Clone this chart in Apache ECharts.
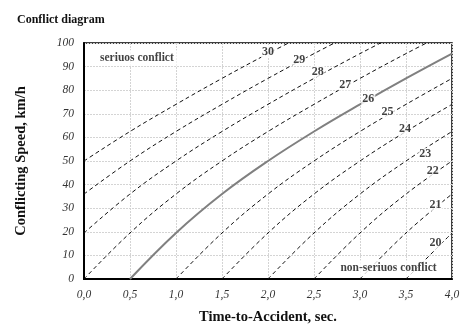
<!DOCTYPE html>
<html>
<head>
<meta charset="utf-8">
<script src="https://cdn.jsdelivr.net/npm/echarts@6/dist/echarts.min.js"></script>
<style>html,body{margin:0;padding:0;background:#fff}#c{width:474px;height:330px}</style>
</head>
<body>
<div id="c"></div>
<script>
// Time-to-Accident sample positions (sec)
const times = [0, 0.5, 1.0, 1.5, 2.0, 2.5, 3.0, 3.5, 4.0];
// Conflicting speed (km/h) read for each iso-line at the times above (null = not drawn)
const c30 = [50, 62.5, 74, 85, 95.5, 105.5, null, null, null];
const c29 = [36, 50, 62.5, 74, 85, 95.5, 105.5, null, null];
const c28 = [19.5, 36, 50, 62.5, 74, 85, 95.5, 105.5, null];
const c27 = [0, 19.5, 36, 50, 62.5, 74, 85, 95.5, 105.5];
const c26 = [null, 0, 19.5, 36, 50, 62.5, 74, 85, 95.5];
const c25 = [null, null, 0, 19.5, 36, 50, 62.5, 74, 85];
const c24 = [null, null, null, 0, 19.5, 36, 50, 62.5, 74];
const c23 = [null, null, null, null, 0, 19.5, 36, 50, 62.5];
const c22 = [null, null, null, null, null, 0, 19.5, 36, 50];
const c21 = [null, null, null, null, null, null, 0, 19.5, 36];
const c20 = [null, null, null, null, null, null, null, 0, 19.5];
const curveNames = ['30','29','28','27','26','25','24','23','22','21','20'];
const curves = [c30, c29, c28, c27, c26, c25, c24, c23, c22, c21, c20];
// Label anchor positions [time, speed] for each iso-line value
const labelTimes  = [2.0, 2.34, 2.54, 2.84, 3.09, 3.30, 3.49, 3.71, 3.79, 3.82, 3.82];
const labelSpeeds = [96.2, 92.9, 87.9, 82.4, 76.2, 70.7, 63.6, 53.1, 45.6, 31.4, 15.1];
// Zone annotations
const zoneNames  = ['seriuos conflict', 'non-seriuos conflict'];
const zoneTimes  = [0.575, 3.31];
const zoneSpeeds = [93.6, 4.6];

const serif = 'Liberation Serif';
const chart = echarts.init(document.getElementById('c'), null, {renderer: 'canvas'});

const series = curves.map((arr, i) => {
  const data = [];
  arr.forEach((v, j) => { if (v !== null) data.push([times[j], v]); });
  const solid = curveNames[i] === '26';
  return {
    type: 'line', name: curveNames[i], data: data, symbol: 'none',
    smooth: 0.4, clip: true, z: 3,
    lineStyle: solid ? {color: '#808080', width: 2, type: 'solid'}
                     : {color: '#111', width: 1, type: [4, 3]}
  };
});

series.push({
  type: 'scatter', z: 10, symbolSize: 0, silent: true,
  data: curveNames.map((n, i) => ({value: [labelTimes[i], labelSpeeds[i]], name: n})),
  label: {show: true, position: 'inside', formatter: '{b}', fontFamily: serif, fontWeight: 'bold',
          fontSize: 12, color: '#111', backgroundColor: '#fff', padding: [0, 1]}
});
series.push({
  type: 'scatter', z: 10, symbolSize: 0, silent: true,
  data: zoneNames.map((n, i) => ({value: [zoneTimes[i], zoneSpeeds[i]], name: n})),
  label: {show: true, position: 'inside', formatter: '{b}', fontFamily: serif, fontWeight: 'bold',
          fontSize: 11.5, color: '#111', backgroundColor: '#fff', padding: [2, 3]}
});

chart.setOption({
  animation: false,
  backgroundColor: '#fff',
  title: {text: 'Conflict diagram', left: 12, top: 9,
          textStyle: {fontFamily: serif, fontWeight: 'bold', fontSize: 12, color: '#111'}},
  grid: {left: 84, right: 22, top: 43, bottom: 48, show: true, borderColor: '#000', borderWidth: 1.5},
  xAxis: {
    type: 'value', min: 0, max: 4, interval: 0.5,
    name: 'Time-to-Accident, sec.', nameLocation: 'middle', nameGap: 31,
    nameTextStyle: {fontFamily: serif, fontWeight: 'bold', fontSize: 14.5, color: '#111'},
    axisLine: {show: true, lineStyle: {color: '#000', width: 2}},
    axisTick: {show: false},
    axisLabel: {fontFamily: serif, fontStyle: 'italic', fontSize: 11.5, color: '#333', margin: 10,
                formatter: v => v.toFixed(1).replace('.', ',')},
    splitLine: {show: true, lineStyle: {color: '#d4d4d4', width: 1, type: [2, 1]}}
  },
  yAxis: {
    type: 'value', min: 0, max: 100, interval: 10,
    name: 'Conflicting Speed, km/h', nameLocation: 'middle', nameGap: 55, nameRotate: 90,
    nameTextStyle: {fontFamily: serif, fontWeight: 'bold', fontSize: 14.5, color: '#111'},
    axisLine: {show: true, lineStyle: {color: '#000', width: 2}},
    axisTick: {show: false},
    axisLabel: {fontFamily: serif, fontStyle: 'italic', fontSize: 11.5, color: '#333', margin: 10},
    splitLine: {show: true, lineStyle: {color: '#d4d4d4', width: 1, type: [2, 1]}}
  },
  series: series
});
</script>
</body>
</html>
